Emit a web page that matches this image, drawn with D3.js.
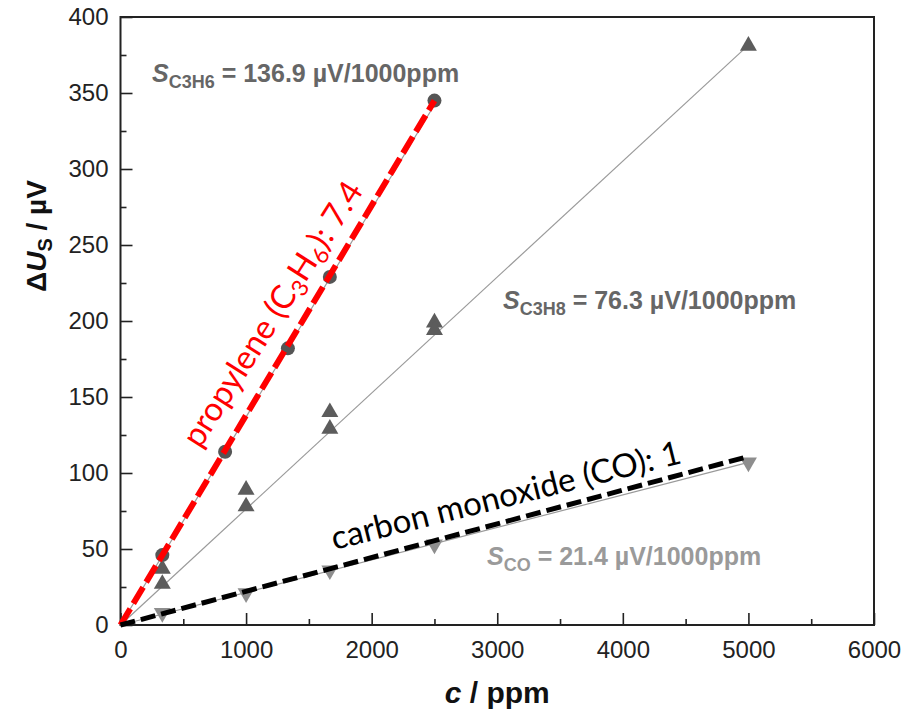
<!DOCTYPE html>
<html><head><meta charset="utf-8">
<script src="https://cdn.jsdelivr.net/npm/d3@7"></script>
<style>body{margin:0;background:#fff}svg{display:block}</style>
</head><body>
<svg id="c" width="919" height="715"></svg>
<script>
// ---- data ----
const xTicks = [0, 1000, 2000, 3000, 4000, 5000, 6000];
const yTicks = [0, 50, 100, 150, 200, 250, 300, 350, 400];
const concC3H6 = [333, 833, 1333, 1667, 2500];
const dUC3H6   = [46, 114, 182, 229, 345];
const concC3H8 = [333, 333, 1000, 1000, 1667, 1667, 2500, 2500, 5000];
const dUC3H8   = [37, 27, 89, 78, 140, 129, 199, 194, 381];
const concCO   = [333, 1000, 1667, 2500, 5000];
const dUCO     = [8, 21, 36, 53, 107];
const sensitivities = [136.9, 76.3, 21.4];       // µV / 1000 ppm
const fitEndConc    = [2500, 5000, 5000];
const redLine   = [[0, 0], [2500, 345]];
const blackLine = [[0, 0], [4960, 110]];

const svg = d3.select("#c");
const x = d3.scaleLinear([0, 6000], [120.5, 874]);
const y = d3.scaleLinear([0, 400], [625, 17]);
const axisCol = "#222";
const tickFont = "'Liberation Sans', Arial, sans-serif";

// frame
svg.append("rect").attr("x", x(0)).attr("y", y(400))
  .attr("width", x(6000) - x(0)).attr("height", y(0) - y(400))
  .attr("fill", "none").attr("stroke", axisCol).attr("stroke-width", 2);

// minor ticks
const gxm = svg.append("g").attr("transform", `translate(0,${y(0)})`)
  .call(d3.axisBottom(x).tickValues(d3.range(500, 6000, 1000)).tickSize(-6).tickFormat(""));
const gym = svg.append("g").attr("transform", `translate(${x(0)},0)`)
  .call(d3.axisLeft(y).tickValues(d3.range(25, 400, 50)).tickSize(-6).tickFormat(""));
// major ticks
const gx = svg.append("g").attr("transform", `translate(0,${y(0)})`)
  .call(d3.axisBottom(x).tickValues(xTicks).tickSize(-12).tickPadding(16).tickFormat(d3.format("d")));
const gy = svg.append("g").attr("transform", `translate(${x(0)},0)`)
  .call(d3.axisLeft(y).tickValues(yTicks).tickSize(-12).tickPadding(12).tickFormat(d3.format("d")));
[gx, gy, gxm, gym].forEach(g => {
  g.select(".domain").remove();
  g.selectAll(".tick line").attr("stroke", axisCol).attr("stroke-width", 1.6);
  g.selectAll("text").attr("font-family", tickFont).attr("font-size", 24).attr("fill", axisCol);
});

// fit lines
const fits = sensitivities.map((s, i) => [[0, 0], [fitEndConc[i], s * fitEndConc[i] / 1000]]);
const line = d3.line().x(d => x(d[0])).y(d => y(d[1]));
svg.append("g").selectAll("path").data(fits).join("path")
  .attr("d", line).attr("fill", "none").attr("stroke", "#9a9a9a").attr("stroke-width", 1.2);

// markers
const tri = d3.symbol().type(d3.symbolTriangle).size(125);
svg.append("g").selectAll("circle").data(concC3H6.map((c, i) => [c, dUC3H6[i]])).join("circle")
  .attr("cx", d => x(d[0])).attr("cy", d => y(d[1])).attr("r", 7).attr("fill", "#555");
svg.append("g").selectAll("path").data(concC3H8.map((c, i) => [c, dUC3H8[i]])).join("path")
  .attr("d", tri).attr("transform", d => `translate(${x(d[0])},${y(d[1])})`).attr("fill", "#5c5c5c");
svg.append("g").selectAll("path").data(concCO.map((c, i) => [c, dUCO[i]])).join("path")
  .attr("d", tri).attr("transform", d => `translate(${x(d[0])},${y(d[1])}) rotate(180)`).attr("fill", "#8e8e8e");

// dashed ratio lines
svg.append("path").datum(redLine).attr("d", line).attr("fill", "none")
  .attr("stroke", "#ff0000").attr("stroke-width", 6).attr("stroke-dasharray", "19,6");
svg.append("path").datum(blackLine).attr("d", line).attr("fill", "none")
  .attr("stroke", "#000").attr("stroke-width", 5).attr("stroke-dasharray", "15,6");

function angleOf(l) {
  return Math.atan2(y(l[1][1]) - y(l[0][1]), x(l[1][0]) - x(l[0][0])) * 180 / Math.PI;
}
const annFont = "Lato, 'Open Sans', sans-serif";
// red label
{
  const c = 780, v = redLine[1][1] / redLine[1][0] * c;
  const t = svg.append("text")
    .attr("transform", `translate(${x(c)},${y(v)}) rotate(${angleOf(redLine) + 1.5})`)
    .attr("dy", -22).attr("font-family", annFont).attr("font-size", 33).attr("fill", "#ff0000");
  t.append("tspan").text("propylene (C");
  t.append("tspan").attr("font-size", 23).attr("dy", 6).text("3");
  t.append("tspan").attr("dy", -6).text("H");
  t.append("tspan").attr("font-size", 23).attr("dy", 6).text("6");
  t.append("tspan").attr("dy", -6).text("): 7.4");
}
// black label
{
  const c = 1735, v = blackLine[1][1] / blackLine[1][0] * c;
  svg.append("text")
    .attr("transform", `translate(${x(c)},${y(v)}) rotate(${angleOf(blackLine) + 1})`)
    .attr("dy", -17).attr("font-family", annFont).attr("font-size", 33).attr("fill", "#000")
    .text("carbon monoxide (CO): 1");
}

// sensitivity annotations
const sLabels = [
  {sub: "C3H6", val: sensitivities[0], px: 152, py: 82, col: "#666"},
  {sub: "C3H8", val: sensitivities[1], px: 503, py: 309, col: "#666"},
  {sub: "CO",   val: sensitivities[2], px: 487, py: 565, col: "#9a9a9a"}
];
sLabels.forEach(d => {
  const t = svg.append("text").attr("x", d.px).attr("y", d.py)
    .attr("font-family", tickFont).attr("font-weight", "bold").attr("font-size", 25).attr("fill", d.col);
  t.append("tspan").attr("font-style", "italic").text("S");
  t.append("tspan").attr("font-size", 18).attr("dy", 6).text(d.sub);
  t.append("tspan").attr("dy", -6).text(` = ${d.val.toFixed(1)} µV/1000ppm`);
});

// axis titles
const xt = svg.append("text").attr("x", (x(0) + x(6000)) / 2).attr("y", 703).attr("text-anchor", "middle")
  .attr("font-family", tickFont).attr("font-weight", "bold").attr("font-size", 30).attr("fill", "#111");
xt.append("tspan").attr("font-style", "italic").text("c");
xt.append("tspan").text(" / ppm");
const yt = svg.append("text").attr("transform", "translate(46,236) rotate(-90)").attr("text-anchor", "middle")
  .attr("font-family", tickFont).attr("font-weight", "bold").attr("font-size", 28).attr("fill", "#111");
yt.append("tspan").text("Δ");
yt.append("tspan").attr("font-style", "italic").text("U");
yt.append("tspan").attr("font-size", 20).attr("dy", 6).text("S");
yt.append("tspan").attr("dy", -6).text(" / µV");
</script>
</body></html>
